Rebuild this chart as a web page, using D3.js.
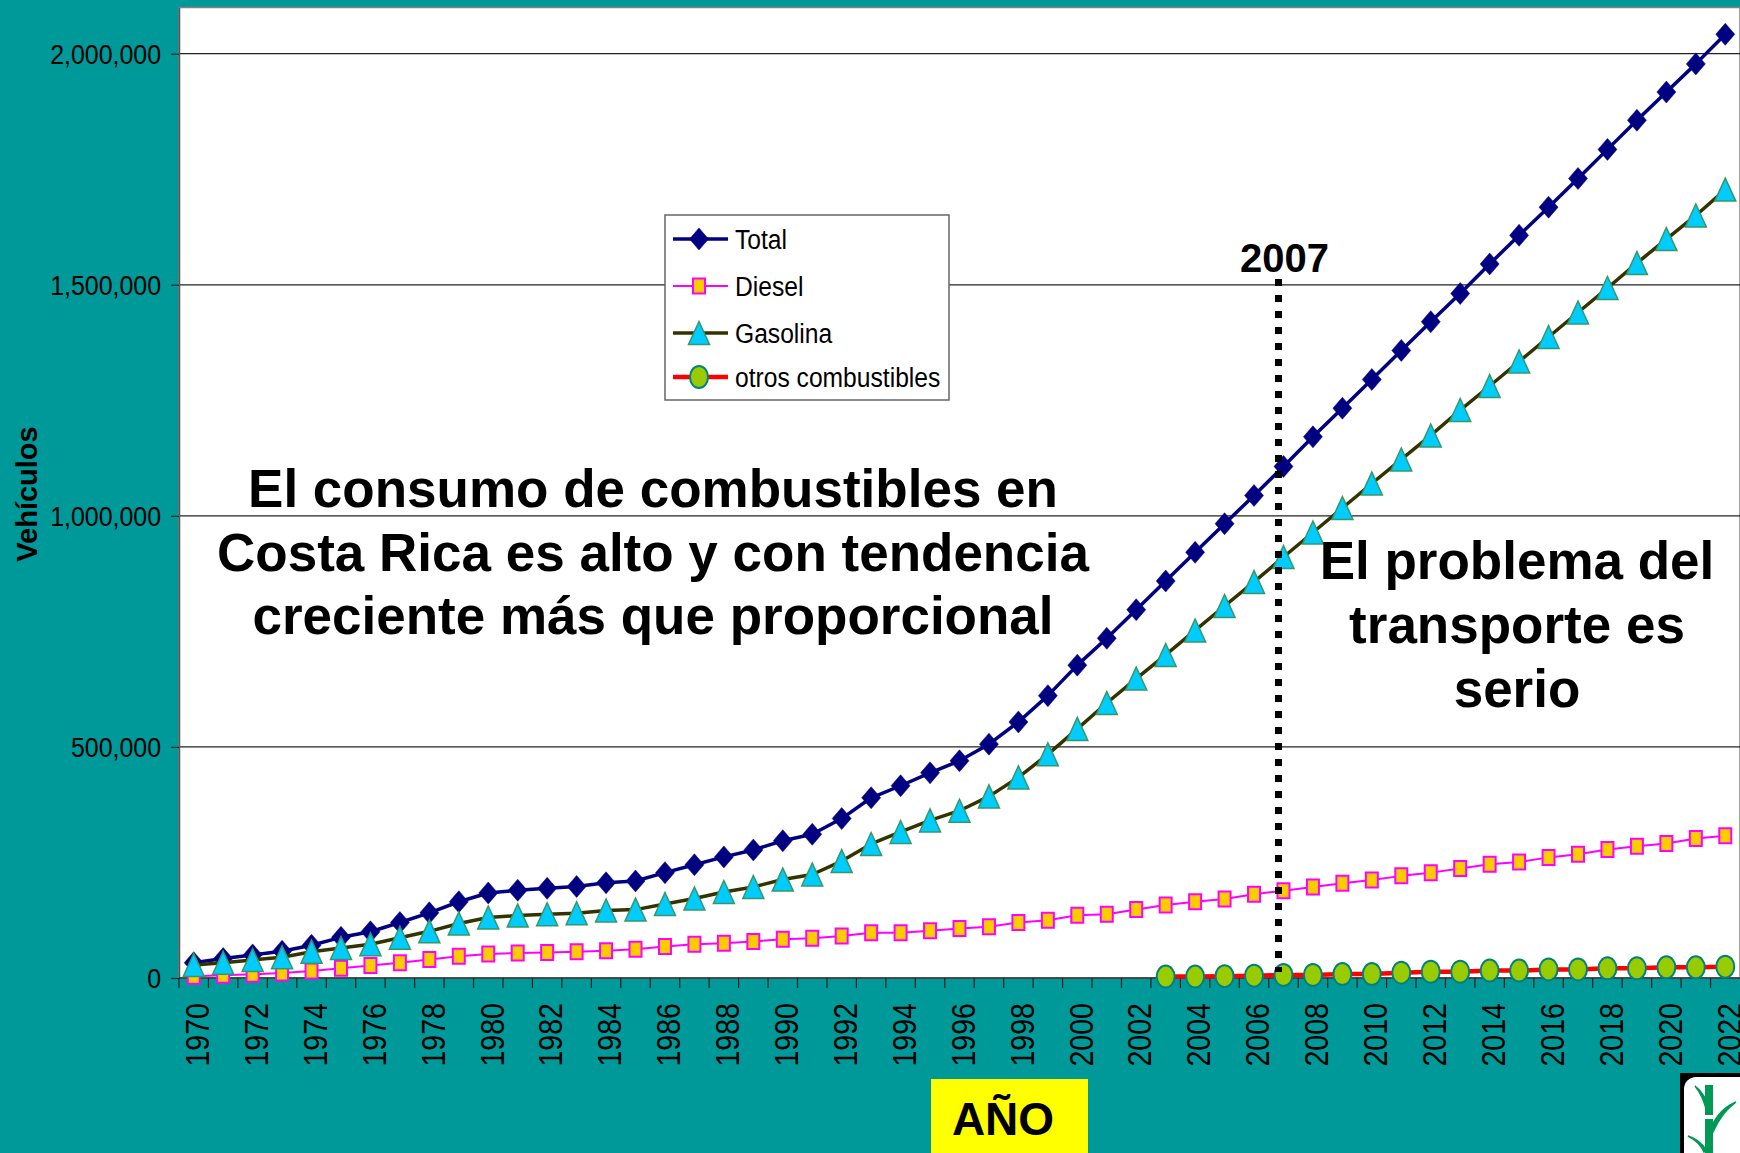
<!DOCTYPE html>
<html>
<head>
<meta charset="utf-8">
<script src="https://cdnjs.cloudflare.com/ajax/libs/d3/7.8.5/d3.min.js"></script>
<style>
body { margin: 0; background: #009999; }
svg { display: block; font-family: "Liberation Sans", Arial, sans-serif; }
</style>
</head>
<body>
<svg id="chart" width="1740" height="1153"></svg>
<script>

// categories

var years = [1970, 1971, 1972, 1973, 1974, 1975, 1976, 1977, 1978, 1979,
  1980, 1981, 1982, 1983, 1984, 1985, 1986, 1987, 1988, 1989,
  1990, 1991, 1992, 1993, 1994, 1995, 1996, 1997, 1998, 1999,
  2000, 2001, 2002, 2003, 2004, 2005, 2006, 2007, 2008, 2009,
  2010, 2011, 2012, 2013, 2014, 2015, 2016, 2017, 2018, 2019,
  2020, 2021, 2022];

// vehicles per fuel

var total = [33000, 42000, 50000, 58000, 71000, 88000, 100000, 120000, 141000, 165000,
  184000, 190000, 194000, 198000, 206000, 210000, 228000, 245000, 262000, 277000,
  297000, 311000, 345000, 390000, 416000, 444000, 470000, 506000, 554000, 611000,
  677000, 735000, 797000, 859000, 921000, 983000, 1044000, 1107000, 1171000, 1233000,
  1295000, 1358000, 1420000, 1481000, 1545000, 1607000, 1668000, 1730000, 1793000, 1856000,
  1917000, 1978000, 2042000];

var diesel = [4000, 6000, 8000, 11000, 15000, 21000, 27000, 33000, 40000, 47000,
  52000, 54000, 55000, 57000, 59000, 62000, 68000, 73000, 75000, 79000,
  84000, 86000, 91000, 98000, 98000, 102000, 107000, 111000, 120000, 125000,
  136000, 138000, 148000, 158000, 165000, 171000, 181000, 189000, 197000, 205000,
  212000, 221000, 228000, 237000, 246000, 251000, 261000, 268000, 278000, 285000,
  291000, 302000, 308000];

var gasolina = [28000, 33000, 39000, 45000, 57000, 65000, 73000, 87000, 101000, 118000,
  131000, 135000, 138000, 140000, 146000, 148000, 160000, 172000, 186000, 197000,
  213000, 224000, 253000, 290000, 316000, 341000, 362000, 393000, 434000, 484000,
  539000, 595000, 648000, 699000, 752000, 805000, 857000, 911000, 964000, 1017000,
  1070000, 1122000, 1174000, 1229000, 1281000, 1334000, 1387000, 1440000, 1493000, 1547000,
  1599000, 1650000, 1706000];

var otros = [null, null, null, null, null, null, null, null, null, null,
  null, null, null, null, null, null, null, null, null, null,
  null, null, null, null, null, null, null, null, null, null,
  null, null, null, 3000, 3000, 4000, 5000, 6500, 6500, 8500,
  8500, 11500, 13500, 13500, 16000, 16000, 18500, 18500, 21000, 21000,
  23000, 23000, 24500];

var seriesNames = ["Total", "Diesel", "Gasolina", "otros combustibles"];
var yTicks = [0, 500000, 1000000, 1500000, 2000000];
var markYear = 2007;

// looks of each series

var styles = {
  "Total": { values: total, line: "#000080", width: 3.5, shape: "diamond", fill: "#000080", stroke: "#000080", sw: 0.5 },
  "Diesel": { values: diesel, line: "#ff00ff", width: 2, shape: "square", fill: "#ffcc00", stroke: "#ff00ff", sw: 2 },
  "Gasolina": { values: gasolina, line: "#333300", width: 3.5, shape: "triangle", fill: "#00ccff", stroke: "#339966", sw: 1.5 },
  "otros combustibles": { values: otros, line: "#ff0000", width: 4.5, shape: "circle", fill: "#99cc00", stroke: "#008080", sw: 2 }
};

var svg = d3.select("#chart");

// plot box (careful: "top" is taken by the window)

var plotLeft = 179, plotRight = 1740, plotTop = 7.5, plotBottom = 978;

var x = d3.scaleBand().domain(years).range([plotLeft, plotRight]).padding(0);
var y = d3.scaleLinear().domain([0, 2100000]).range([plotBottom, plotTop]);

function cx(year) { return x(year) + x.bandwidth() / 2; }

// plot area

svg.append("rect")
  .attr("x", plotLeft).attr("y", plotTop)
  .attr("width", plotRight - plotLeft).attr("height", plotBottom - plotTop)
  .attr("fill", "#ffffff")
  .attr("stroke", "#808080")
  .attr("stroke-width", 1.5);

// grid lines

svg.selectAll(".grid")
  .data(yTicks.filter(function(d) { return d > 0; }))
  .enter().append("line")
  .attr("x1", plotLeft).attr("x2", plotRight)
  .attr("y1", function(d) { return y(d); })
  .attr("y2", function(d) { return y(d); })
  .attr("stroke", "#222")
  .attr("stroke-width", 1.2);

// y axis

var yAxis = svg.append("g")
  .attr("transform", "translate(" + plotLeft + ",0)")
  .call(d3.axisLeft(y).tickValues(yTicks).tickFormat(d3.format(",")).tickSize(8).tickSizeOuter(0));

yAxis.select(".domain").attr("stroke", "#555").attr("stroke-width", 1.5);
yAxis.selectAll(".tick line").attr("stroke", "#222").attr("stroke-width", 1.2);
yAxis.selectAll(".tick text")
  .attr("x", null).attr("dy", null)
  .attr("dominant-baseline", "central")
  .attr("transform", "translate(-18,0) scale(0.89,1)")
  .attr("font-size", 28)
  .attr("fill", "#000");

// x axis line and ticks on category borders

svg.append("line")
  .attr("x1", plotLeft).attr("x2", plotRight)
  .attr("y1", plotBottom).attr("y2", plotBottom)
  .attr("stroke", "#333").attr("stroke-width", 1.5);

svg.selectAll(".xtick")
  .data(years)
  .enter().append("line")
  .attr("x1", function(d) { return x(d); })
  .attr("x2", function(d) { return x(d); })
  .attr("y1", plotBottom).attr("y2", plotBottom + 10)
  .attr("stroke", "#222").attr("stroke-width", 1.2);

// every second year gets a label

svg.selectAll(".xlabel")
  .data(years.filter(function(d) { return d % 2 === 0; }))
  .enter().append("text")
  .attr("transform", function(d) { return "translate(" + (cx(d) + 3) + "," + (plotBottom + 25) + ") rotate(-90) scale(0.84,1)"; })
  .attr("text-anchor", "end")
  .attr("dy", "0.36em")
  .attr("font-size", 34)
  .attr("fill", "#000")
  .text(function(d) { return d; });

// markers

function markerPath(shape)
{
  if (shape === "diamond") return "M0,-11L9.5,0L0,11L-9.5,0Z";
  if (shape === "square") return "M-6,-7.5H6V7.5H-6Z";
  if (shape === "triangle") return "M0,-11.5L10.5,11.5L-10.5,11.5Z";
  return null;
}

function drawMarker(g, st)
{
  if (st.shape === "circle") {
    g.append("ellipse").attr("rx", 9).attr("ry", 11)
      .attr("fill", st.fill).attr("stroke", st.stroke).attr("stroke-width", st.sw);
  } else {
    g.append("path").attr("d", markerPath(st.shape))
      .attr("fill", st.fill).attr("stroke", st.stroke).attr("stroke-width", st.sw)
      .attr("stroke-linejoin", "miter");
  }
}

// series, drawn in legend order

seriesNames.forEach(function(name)
{
  var st = styles[name];
  var pts = years.map(function(yr, i) { return { year: yr, v: st.values[i] }; });

  var line = d3.line()
    .defined(function(d) { return d.v !== null; })
    .x(function(d) { return cx(d.year); })
    .y(function(d) { return y(d.v); });

  svg.append("path")
    .datum(pts)
    .attr("d", line)
    .attr("fill", "none")
    .attr("stroke", st.line)
    .attr("stroke-width", st.width)
    .attr("stroke-linejoin", "round");

  svg.selectAll(null)
    .data(pts.filter(function(d) { return d.v !== null; }))
    .enter().append("g")
    .attr("transform", function(d) { return "translate(" + cx(d.year) + "," + y(d.v) + ")"; })
    .each(function() { drawMarker(d3.select(this), st); });
});

// dotted marker at 2007

svg.append("line")
  .attr("x1", cx(markYear) - 5).attr("x2", cx(markYear) - 5)
  .attr("y1", 279).attr("y2", 972)
  .attr("stroke", "#000")
  .attr("stroke-width", 7)
  .attr("stroke-dasharray", "7,9");

svg.append("text")
  .attr("x", cx(markYear) + 1).attr("y", 272)
  .attr("text-anchor", "middle")
  .attr("font-size", 40).attr("font-weight", "bold")
  .text(markYear);

// annotations

var leftNote = ["El consumo de combustibles en", "Costa Rica es alto y con tendencia", "creciente más que proporcional"];
var rightNote = ["El problema del", "transporte es", "serio"];

svg.selectAll(".noteL")
  .data(leftNote)
  .enter().append("text")
  .attr("x", 653).attr("y", function(d, i) { return 507 + i * 63.5; })
  .attr("text-anchor", "middle")
  .attr("font-size", 53).attr("font-weight", "bold")
  .text(function(d) { return d; });

svg.selectAll(".noteR")
  .data(rightNote)
  .enter().append("text")
  .attr("x", 1517).attr("y", function(d, i) { return 579 + i * 64; })
  .attr("text-anchor", "middle")
  .attr("font-size", 53).attr("font-weight", "bold")
  .text(function(d) { return d; });

// legend

var legend = svg.append("g").attr("transform", "translate(665,215)");

legend.append("rect")
  .attr("width", 284).attr("height", 185)
  .attr("fill", "#fff").attr("stroke", "#666").attr("stroke-width", 1.5);

var rowY = [24, 71, 118, 162];

seriesNames.forEach(function(name, i)
{
  var st = styles[name];
  var row = legend.append("g").attr("transform", "translate(0," + rowY[i] + ")");

  row.append("line")
    .attr("x1", 8).attr("x2", 63)
    .attr("stroke", st.line).attr("stroke-width", st.width);

  drawMarker(row.append("g").attr("transform", "translate(34,0)"), st);

  row.append("text")
    .attr("transform", "translate(70,0) scale(0.88,1)")
    .attr("dy", "0.35em")
    .attr("font-size", 28)
    .text(name);
});

// axis titles

svg.append("text")
  .attr("transform", "translate(37,494) rotate(-90)")
  .attr("text-anchor", "middle")
  .attr("font-size", 29).attr("font-weight", "bold")
  .text("Vehículos");

svg.append("rect")
  .attr("x", 931).attr("y", 1079)
  .attr("width", 157).attr("height", 80)
  .attr("fill", "#ffff00");

svg.append("text")
  .attr("x", 1003).attr("y", 1135)
  .attr("text-anchor", "middle")
  .attr("font-size", 46).attr("font-weight", "bold")
  .text("AÑO");

// little logo in the corner

var logo = svg.append("g");

logo.append("rect")
  .attr("x", 1680).attr("y", 1073).attr("width", 70).attr("height", 90)
  .attr("fill", "#000");

logo.append("rect")
  .attr("x", 1684).attr("y", 1077).attr("width", 70).attr("height", 90)
  .attr("rx", 12)
  .attr("fill", "#fff");

logo.append("path")
  .attr("d", "M1705,1085h8v30h-8z M1705,1119h8v34h-8z")
  .attr("fill", "#009955");

logo.append("path")
  .attr("d", "M1707,1112C1704,1100 1700,1092 1695,1086C1703,1092 1707,1100 1709,1110Z" +
             "M1711,1128C1717,1114 1726,1106 1736,1102C1728,1108 1719,1118 1713,1132Z" +
             "M1706,1150C1701,1142 1695,1138 1688,1136C1696,1140 1701,1145 1704,1152Z")
  .attr("fill", "#009955")
  .attr("stroke", "#009955")
  .attr("stroke-width", 1.5);

</script>
</body>
</html>
